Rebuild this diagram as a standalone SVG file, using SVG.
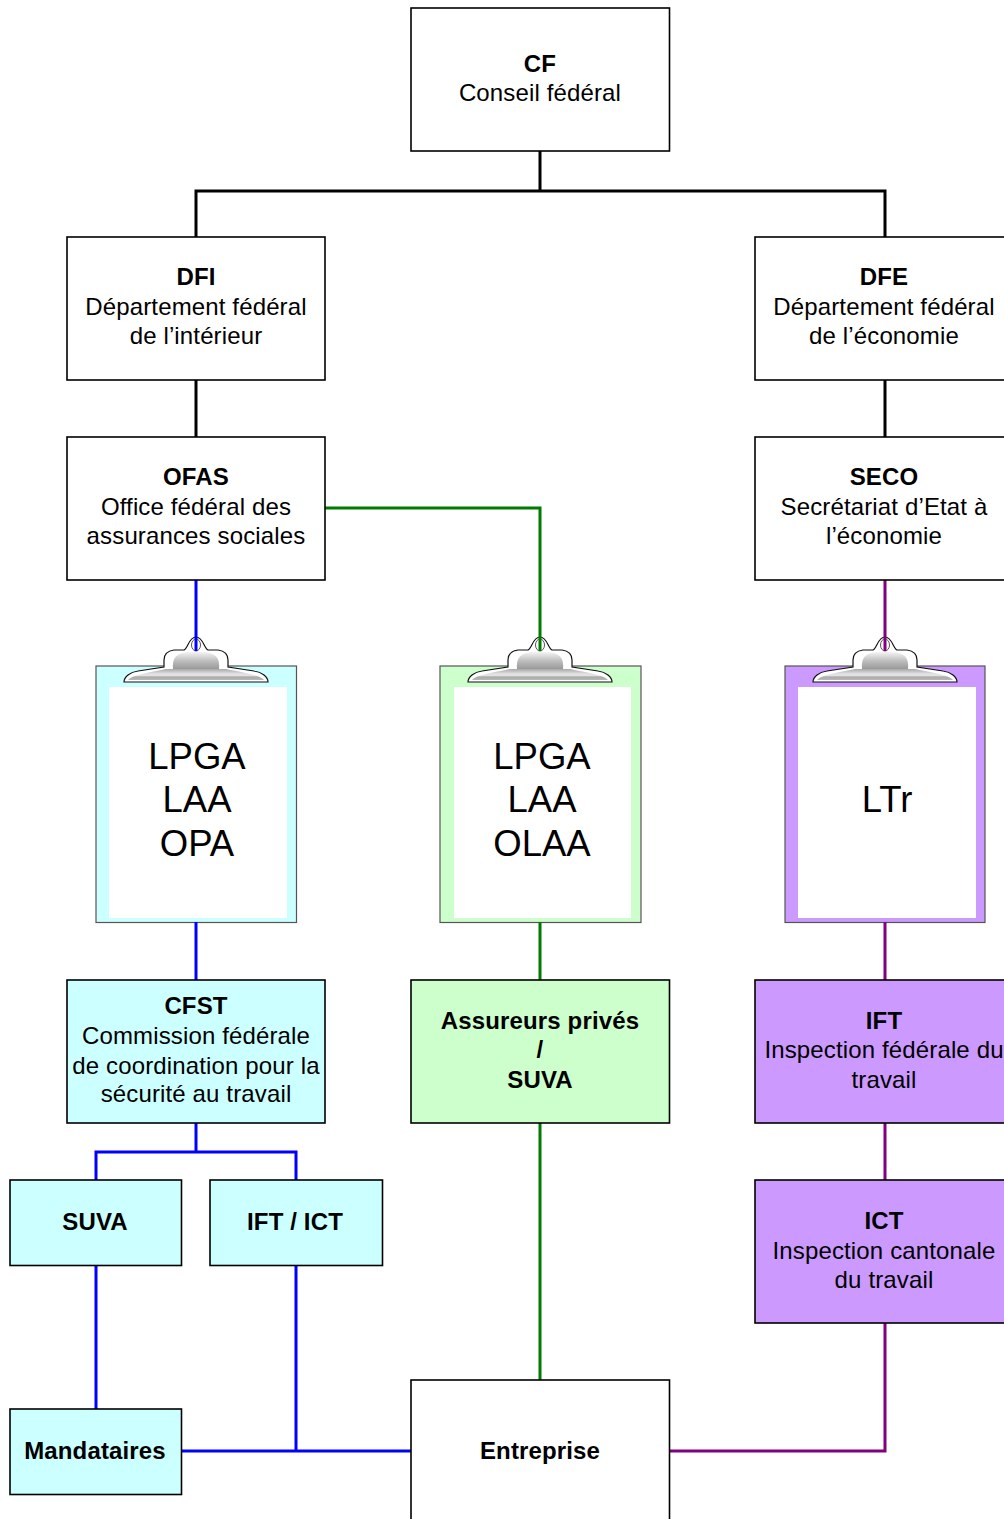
<svg xmlns="http://www.w3.org/2000/svg" width="1004" height="1519" viewBox="0 0 1004 1519">
<style>
text{font-family:"Liberation Sans",Arial,sans-serif;font-size:24px;fill:#000;text-anchor:middle;letter-spacing:.14px}
.b{font-weight:bold}
.box{stroke:#000;stroke-width:1.6}
.c{fill:none;stroke-width:3}
.k{stroke:#000}.bl{stroke:#0000ff}.g{stroke:#007a00}.p{stroke:#800080}
text.big{font-size:36.5px;letter-spacing:0}
.board{stroke:#555;stroke-width:1.2}
</style>
<defs>
<linearGradient id="m" x1="0" y1="0" x2="0" y2="1"><stop offset="0" stop-color="#f4f4f4"/><stop offset=".5" stop-color="#c0c0c0"/><stop offset="1" stop-color="#999"/></linearGradient>
<linearGradient id="n" x1="0" y1="0" x2="0" y2="1"><stop offset="0" stop-color="#a8a8a8"/><stop offset=".45" stop-color="#e2e2e2"/><stop offset=".6" stop-color="#e2e2e2"/><stop offset=".72" stop-color="#aaa"/><stop offset="1" stop-color="#b8b8b8"/></linearGradient>
<g id="clip">
<path d="M-72 42 C-72 37 -66 32 -58 31 L-32 27 L-32 20 C-32 14 -29 11 -22 10 L-12 10 C-8 8 -7 -3 0 -3 C7 -3 8 8 12 10 L22 10 C29 11 32 14 32 20 L32 27 L58 31 C66 32 72 37 72 42Z" fill="#fff" stroke="#111" stroke-width="1.2"/>
<path d="M-23 29 C-24 18 -20 13 -8 12 L8 12 C20 13 24 18 23 29Z" fill="url(#m)"/>
<path d="M-68 40 C-64 35 -50 33 -30 29 L30 29 C50 33 64 35 68 40Z" fill="url(#n)"/>
<ellipse cx="0" cy="5" rx="4.500" ry="6" fill="#fff" stroke="#555" stroke-width="1"/>
</g>
</defs>
<g id="board-ofas"><rect class="board" x="96" y="666" width="200.500" height="256.500" fill="#ccffff"/><rect x="109" y="687" width="178" height="231" fill="#fff"/><text class="big" x="197" y="769">LPGA</text><text class="big" x="197" y="812">LAA</text><text class="big" x="197" y="856">OPA</text><use href="#clip" x="196" y="640"/></g>
<g id="board-prive"><rect class="board" x="440" y="666" width="201" height="256.500" fill="#ccffcc"/><rect x="454" y="687" width="177" height="231" fill="#fff"/><text class="big" x="542" y="769">LPGA</text><text class="big" x="542" y="812">LAA</text><text class="big" x="542" y="856">OLAA</text><use href="#clip" x="540" y="640"/></g>
<g id="board-seco"><rect class="board" x="785" y="666" width="200" height="256.500" fill="#cc99ff"/><rect x="798" y="687" width="178" height="231" fill="#fff"/><text class="big" x="887" y="812">LTr</text><use href="#clip" x="885" y="640"/></g>
<g id="connectors">
<path class="c k" d="M540 151V191M196 237V191H885V237M196 380V437M885 380V437"/>
<path class="c g" d="M325 508H540V651M540 922V980M540 1123V1380"/>
<path class="c bl" d="M196 580V651M196 922V980M196 1123V1152M96 1180V1152H296V1180M96 1265V1409M296 1265V1451M182 1451H411"/>
<path class="c p" d="M885 580V651M885 922V980M885 1123V1180M885 1323V1451H670"/>
</g>
<g id="CF"><rect class="box" x="411" y="8" width="258.500" height="143" fill="#fff"/><text class="b" x="540" y="72">CF</text><text x="540" y="101">Conseil fédéral</text></g>
<g id="DFI"><rect class="box" x="67" y="237" width="258" height="143" fill="#fff"/><text class="b" x="196" y="285">DFI</text><text x="196" y="315">Département fédéral</text><text x="196" y="344">de l’intérieur</text></g>
<g id="DFE"><rect class="box" x="755" y="237" width="258" height="143" fill="#fff"/><text class="b" x="884" y="285">DFE</text><text x="884" y="315">Département fédéral</text><text x="884" y="344">de l’économie</text></g>
<g id="OFAS"><rect class="box" x="67" y="437" width="258" height="143" fill="#fff"/><text class="b" x="196" y="485">OFAS</text><text x="196" y="515">Office fédéral des</text><text x="196" y="544">assurances sociales</text></g>
<g id="SECO"><rect class="box" x="755" y="437" width="258" height="143" fill="#fff"/><text class="b" x="884" y="485">SECO</text><text x="884" y="515">Secrétariat d’Etat à</text><text x="884" y="544">l’économie</text></g>
<g id="CFST"><rect class="box" x="67" y="980" width="258" height="143" fill="#ccffff"/><text class="b" x="196" y="1014">CFST</text><text x="196" y="1044">Commission fédérale</text><text x="196" y="1074">de coordination pour la</text><text x="196" y="1102">sécurité au travail</text></g>
<g id="Assureurs"><rect class="box" x="411" y="980" width="258.500" height="143" fill="#ccffcc"/><text class="b" x="540" y="1029">Assureurs privés</text><text class="b" x="540" y="1058">/</text><text class="b" x="540" y="1088">SUVA</text></g>
<g id="IFT"><rect class="box" x="755" y="980" width="258" height="143" fill="#cc99ff"/><text class="b" x="884" y="1029">IFT</text><text x="884" y="1058">Inspection fédérale du</text><text x="884" y="1088">travail</text></g>
<g id="SUVA"><rect class="box" x="10" y="1180" width="171.500" height="85.500" fill="#ccffff"/><text class="b" x="95" y="1230">SUVA</text></g>
<g id="IFT-ICT"><rect class="box" x="210" y="1180" width="172.500" height="85.500" fill="#ccffff"/><text class="b" x="295" y="1230">IFT / ICT</text></g>
<g id="ICT"><rect class="box" x="755" y="1180" width="258" height="143" fill="#cc99ff"/><text class="b" x="884" y="1229">ICT</text><text x="884" y="1259">Inspection cantonale</text><text x="884" y="1288">du travail</text></g>
<g id="Mandataires"><rect class="box" x="10" y="1409" width="171.500" height="85.500" fill="#ccffff"/><text class="b" x="95" y="1459">Mandataires</text></g>
<g id="Entreprise"><rect class="box" x="411" y="1380" width="258.500" height="143" fill="#fff"/><text class="b" x="540" y="1459">Entreprise</text></g>
</svg>
